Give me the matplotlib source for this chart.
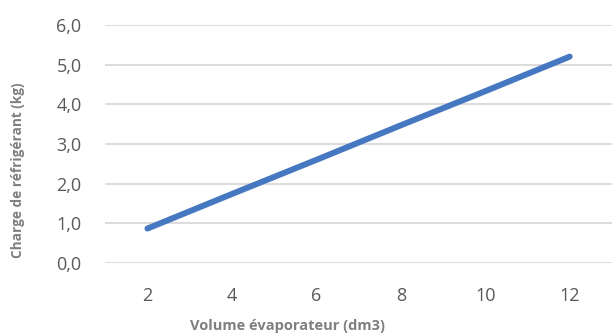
import matplotlib
matplotlib.use('Agg')
import matplotlib.pyplot as plt
import matplotlib.patheffects as pe
from matplotlib.ticker import FuncFormatter

# data
volume = [2, 4, 6, 8, 10, 12]
charge = [0.87, 1.74, 2.60, 3.47, 4.33, 5.20]
x_ticks = [2, 4, 6, 8, 10, 12]
y_ticks = [0, 1, 2, 3, 4, 5, 6]

plt.rcParams['font.family'] = ['Open Sans', 'DejaVu Sans']

fig = plt.figure(figsize=(6.15, 3.36), dpi=100)
ax = fig.add_axes([0.171, 0.217, 0.824, 0.709])

# line with soft shadow like the spreadsheet export
ax.plot(volume, charge, color='#4678c2', lw=4.3, solid_capstyle='round',
        path_effects=[pe.SimplePatchShadow(offset=(1.5, -2), shadow_rgbFace='#777777', alpha=0.35),
                      pe.Normal()], zorder=3)

ax.set_xlim(1, 13)
ax.set_ylim(0, 6)
ax.set_xticks(x_ticks)
ax.set_yticks(y_ticks)
ax.yaxis.set_major_formatter(FuncFormatter(lambda v, p: f'{v:.1f}'.replace('.', ',')))

ax.grid(axis='y', color='#d9d9d9', lw=1.3)
ax.set_axisbelow(True)
for s in ax.spines.values():
    s.set_visible(False)
ax.tick_params(length=0, labelsize=13, colors='#595959')
ax.tick_params(axis='y', pad=17)
ax.tick_params(axis='x', pad=17)

ax.set_xlabel('Volume évaporateur (dm3)', fontsize=10.5, fontweight='bold', color='#7f7f7f')
ax.set_ylabel('Charge de réfrigérant (kg)', fontsize=9.8, fontweight='bold', color='#7f7f7f')
# label positions in the reference are off-centre
ax.xaxis.set_label_coords(0.36, -0.235)
ax.yaxis.set_label_coords(-0.158, 0.39)

for t in ax.get_yticklabels() + ax.get_xticklabels():
    t.set_clip_on(False)

fig.savefig('out.png', dpi=100)
